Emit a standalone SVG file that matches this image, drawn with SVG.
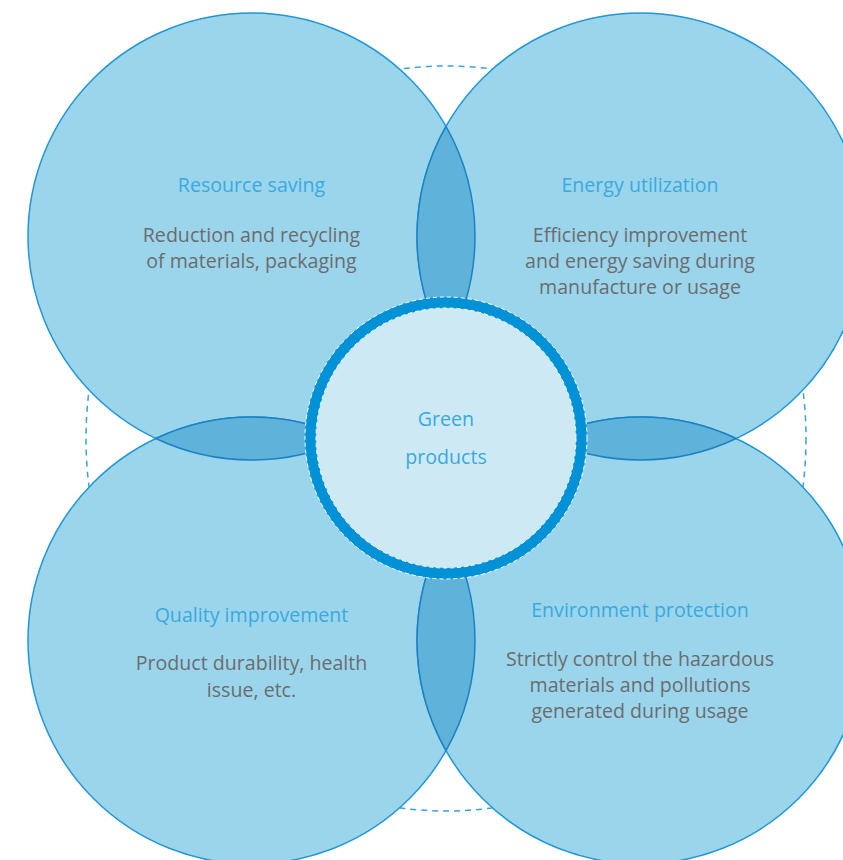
<svg xmlns="http://www.w3.org/2000/svg" width="843" height="860" viewBox="0 0 843 860">
<style>
.big{fill:#9bd5eb;stroke:#2196d6;stroke-width:1.5}
.lens{fill:#5fb2d9;stroke:#1c82c4;stroke-width:1.5}
.title{font-family:"Open Sans","Liberation Sans",sans-serif;font-size:19.6px;fill:#3aa9e0;text-anchor:middle}
.body{font-family:"Open Sans","Liberation Sans",sans-serif;font-size:19.6px;fill:#6b6c6e;text-anchor:middle}
</style>
<rect width="843" height="860" fill="#ffffff"/>
<ellipse cx="446" cy="438.5" rx="360" ry="372.5" fill="none" stroke="#3aa2dd" stroke-width="1.5" stroke-dasharray="6 5"/>
<g id="resource-saving">
<circle class="big" cx="251.5" cy="236.5" r="223.5"/>
</g>
<g id="energy-utilization">
<circle class="big" cx="640.5" cy="236.5" r="223.5"/>
</g>
<g id="quality-improvement">
<circle class="big" cx="251.5" cy="640.5" r="223.5"/>
</g>
<g id="environment-protection">
<circle class="big" cx="640.5" cy="640.5" r="223.5"/>
</g>
<g id="connectors">
<path class="lens" d="M446,126.4 A223.5,223.5 0 0 1 446,346.6 A223.5,223.5 0 0 1 446,126.4 Z"/>
<path class="lens" d="M446,530.4 A223.5,223.5 0 0 1 446,750.6 A223.5,223.5 0 0 1 446,530.4 Z"/>
<path class="lens" d="M155.85,438.5 A223.5,223.5 0 0 1 347.15,438.5 A223.5,223.5 0 0 1 155.85,438.5 Z"/>
<path class="lens" d="M544.85,438.5 A223.5,223.5 0 0 1 736.15,438.5 A223.5,223.5 0 0 1 544.85,438.5 Z"/>
</g>
<g id="green-products">
<circle cx="446" cy="438" r="135.5" fill="#cde9f3" stroke="#0091d6" stroke-width="11"/>
<circle cx="446" cy="438" r="141" fill="none" stroke="#ffffff" stroke-width="1" stroke-dasharray="4 3"/>
<circle cx="446" cy="438" r="130" fill="none" stroke="#ffffff" stroke-width="1" stroke-dasharray="4 3"/>
<text class="title" x="446" y="426">Green</text>
<text class="title" x="446" y="464">products</text>
</g>
<g id="labels">
<text class="title" x="251.5" y="192">Resource saving</text>
<text class="body" x="251.5" y="242">Reduction and recycling</text>
<text class="body" x="251.5" y="267.5">of materials, packaging</text>
<text class="title" x="640" y="192">Energy utilization</text>
<text class="body" x="640" y="242">Efficiency improvement</text>
<text class="body" x="640" y="268">and energy saving during</text>
<text class="body" x="640" y="294">manufacture or usage</text>
<text class="title" x="251.5" y="621.5">Quality improvement</text>
<text class="body" x="251.5" y="670">Product durability, health</text>
<text class="body" x="251.5" y="696.5">issue, etc.</text>
<text class="title" x="640" y="616.5">Environment protection</text>
<text class="body" x="640" y="666">Strictly control the hazardous</text>
<text class="body" x="640" y="692">materials and pollutions</text>
<text class="body" x="640" y="718">generated during usage</text>
</g>
</svg>
